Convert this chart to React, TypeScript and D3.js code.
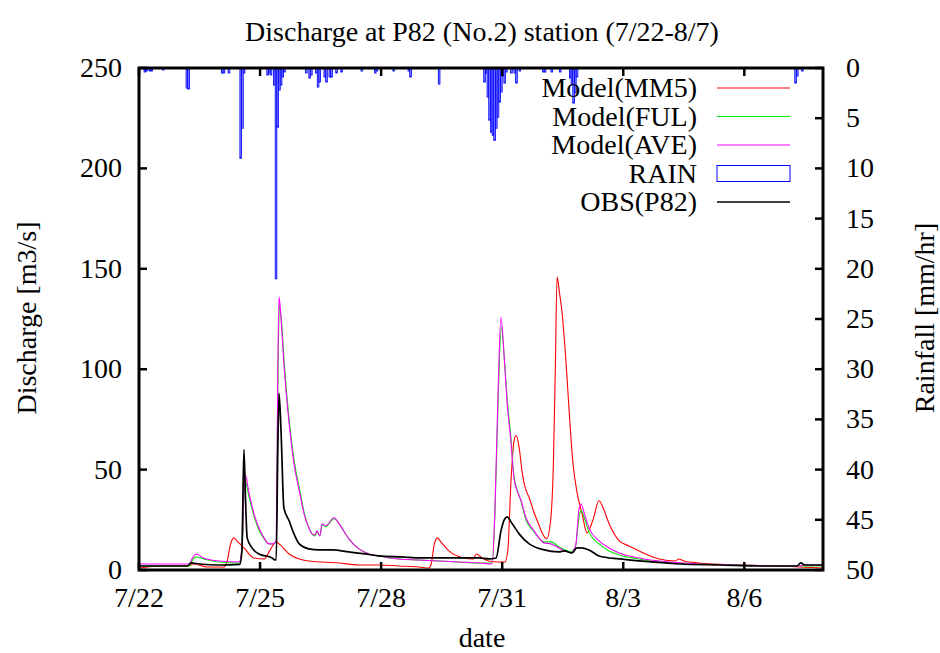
import React, { useEffect, useRef } from 'react';
import * as d3 from 'd3';

// time in days since 7/22 00:00, discharge in m3/s
const MM5: [number, number][] = [
  [0, 1], [0.2, 1.5], [0.5, 2], [1.2, 2], [1.35, 3], [1.7, 1.5], [2.1, 1.5], [2.18, 4], [2.27, 13],
  [2.35, 16], [2.45, 14], [2.6, 11], [2.85, 6], [3.1, 5.5], [3.25, 10], [3.4, 14], [3.5, 12.5],
  [3.72, 8], [4.2, 4.5], [4.96, 3.5], [5.45, 2.5], [5.95, 2.5], [6.44, 2], [6.94, 1.5], [7.18, 1],
  [7.24, 3], [7.32, 13], [7.39, 16], [7.5, 13.5], [7.68, 9.5], [8.05, 6], [8.28, 5.5], [8.36, 8],
  [8.5, 6], [8.67, 4.5], [8.9, 4], [9.07, 4], [9.14, 10], [9.22, 45], [9.3, 65], [9.35, 67],
  [9.42, 61], [9.5, 48], [9.57, 41], [9.67, 36], [9.8, 28], [9.9, 23], [10.0, 18], [10.1, 15.5],
  [10.2, 24.5], [10.27, 54], [10.32, 104], [10.36, 146], [10.42, 138], [10.48, 129], [10.58, 104],
  [10.66, 79], [10.75, 54], [10.86, 38], [10.98, 28], [11.1, 18.5], [11.25, 25], [11.4, 34.5],
  [11.5, 31], [11.65, 23], [11.9, 14.5], [12.14, 12], [12.39, 9.5], [12.89, 5.5], [13.3, 4.5],
  [13.38, 5.5], [13.5, 4.5], [13.88, 3.5], [14.87, 2.5], [15.86, 2], [16.36, 1.5], [16.95, 1]
];

const FUL: [number, number][] = [
  [0, 2], [1.25, 2], [1.3, 4], [1.41, 6.5], [1.6, 5.5], [1.98, 4], [2.48, 3.5], [2.55, 9], [2.62, 45],
  [2.73, 36], [2.85, 27], [2.97, 20], [3.1, 15.5], [3.22, 13], [3.3, 13], [3.4, 14], [3.44, 90],
  [3.48, 132], [3.53, 124], [3.6, 103], [3.72, 75], [3.84, 55], [3.97, 41], [4.09, 29], [4.21, 21],
  [4.29, 18], [4.36, 17], [4.41, 19], [4.48, 17], [4.54, 22.5], [4.63, 21.5], [4.83, 25.5],
  [4.96, 23], [5.2, 15.5], [5.45, 10.5], [5.7, 8], [5.95, 7], [6.44, 5.5], [6.94, 5], [7.43, 4.5],
  [7.93, 4], [8.43, 3.5], [8.75, 3.5], [8.82, 28], [8.9, 85], [8.98, 121], [9.05, 106], [9.12, 86],
  [9.22, 65], [9.29, 47], [9.37, 40], [9.47, 34], [9.59, 25], [9.79, 19], [10.04, 14], [10.21, 14],
  [10.41, 11.5], [10.56, 10], [10.7, 9], [10.82, 12], [10.9, 26], [10.96, 29.5], [11.05, 25],
  [11.15, 19], [11.4, 13], [11.65, 9.5], [11.9, 7.5], [12.39, 5.5], [12.89, 4], [13.88, 3],
  [14.87, 2.5], [15.86, 2], [16.95, 2]
];

const AVE: [number, number][] = [
  [0, 3], [1.25, 3], [1.3, 5], [1.41, 8], [1.6, 6], [1.98, 4.5], [2.48, 4], [2.55, 10], [2.62, 48],
  [2.73, 38], [2.85, 28], [2.97, 21], [3.1, 16], [3.22, 13], [3.3, 13], [3.4, 14.5], [3.44, 100],
  [3.47, 136], [3.52, 125], [3.59, 103], [3.72, 73], [3.84, 53], [3.97, 39.5], [4.09, 28],
  [4.21, 21], [4.29, 18], [4.36, 17.5], [4.41, 19.5], [4.48, 17], [4.54, 23], [4.63, 22],
  [4.83, 26], [4.96, 23], [5.2, 15.5], [5.45, 10.5], [5.7, 8], [5.95, 7], [6.44, 5.5], [6.94, 5],
  [7.43, 4.5], [7.93, 4], [8.43, 3.5], [8.75, 3], [8.82, 30], [8.9, 90], [8.97, 126], [9.05, 106],
  [9.12, 84], [9.22, 63], [9.29, 46], [9.37, 39.5], [9.47, 34.5], [9.59, 26], [9.79, 19.5],
  [10.04, 13.5], [10.21, 13], [10.41, 11], [10.56, 9.5], [10.7, 8.5], [10.82, 12], [10.9, 30],
  [10.95, 33], [11.05, 27], [11.15, 21], [11.4, 14.5], [11.65, 11], [11.9, 8.5], [12.39, 6],
  [12.89, 4.5], [13.88, 3], [14.87, 2.5], [15.86, 2], [16.4, 2], [16.45, 2.5], [16.95, 2.5]
];

const OBS: [number, number][] = [
  [0, 2], [1.2, 2], [1.29, 3.5], [1.5, 3], [2.0, 2.5], [2.5, 2.8], [2.55, 10], [2.6, 60],
  [2.64, 35], [2.68, 16], [2.8, 11], [2.97, 8], [3.3, 6], [3.37, 5], [3.4, 5], [3.44, 60],
  [3.47, 88], [3.52, 69], [3.59, 31], [3.72, 24.5], [3.84, 18], [3.97, 13], [4.21, 10.5],
  [4.46, 10], [4.8, 10], [5.2, 9], [5.6, 8], [5.95, 7], [6.5, 6.5], [7.0, 6], [7.5, 6], [8.0, 6],
  [8.43, 6], [8.67, 5.5], [8.85, 6], [8.97, 19.5], [9.05, 25], [9.12, 26.5], [9.25, 23],
  [9.42, 18], [9.67, 13], [10.04, 10], [10.4, 9], [10.55, 9.5], [10.73, 8.5], [10.85, 11],
  [10.95, 11], [11.15, 10], [11.4, 7], [11.9, 5.5], [12.4, 4.5], [13.4, 3], [14.4, 2.5],
  [15.4, 2], [16.3, 2], [16.4, 3.5], [16.5, 2.5], [16.95, 2.5]
];

// hour since 7/22 00:00, rainfall in mm/hr
const RAIN: [number, number][] = [
  [3, 0.4], [4, 0.3], [6, 0.3], [7, 0.3], [14, 0.2], [28, 2.0], [29, 2.1], [49, 0.5], [50, 0.5],
  [53, 0.5], [60, 9], [61, 6], [62, 0.5], [76, 0.7], [77, 0.5], [78, 0.7], [80, 1.7], [81, 21],
  [82, 5.9], [83, 2.2], [84, 1.7], [85, 0.9], [86, 0.4], [99, 0.5], [101, 1.0], [102, 0.7],
  [105, 0.5], [106, 1.9], [107, 1.4], [110, 0.9], [111, 1.4], [113, 0.9], [114, 0.9], [117, 0.5],
  [120, 0.4], [132, 0.3], [140, 0.5], [141, 0.3], [151, 0.3], [160, 0.3], [161, 0.9], [178, 1.6],
  [205, 1.4], [206, 0.5], [207, 2.9], [208, 5.2], [209, 6.4], [210, 6.7], [211, 7.2], [212, 6.0],
  [213, 4.9], [214, 3.4], [215, 2.4], [216, 0.8], [217, 1.5], [218, 0.4], [221, 0.5], [223, 0.5],
  [224, 1.5], [226, 0.3], [240, 0.4], [241, 0.4], [245, 0.4], [250, 0.4], [256, 1.0], [257, 1.7],
  [258, 3.5], [259, 2.5], [260, 0.9], [390, 1.5], [391, 0.8], [394, 0.3]
];

const xTickDays = [0, 3, 6, 9, 12, 15];
const xTickLabels = ['7/22', '7/25', '7/28', '7/31', '8/3', '8/6'];
const yTicks = [0, 50, 100, 150, 200, 250];
const y2Ticks = [0, 5, 10, 15, 20, 25, 30, 35, 40, 45, 50];

const FONT = '"Liberation Serif", "Times New Roman", serif';

export default function App() {
  const svgRef = useRef<SVGSVGElement>(null);

  useEffect(() => {
    document.body.style.margin = '0';
    if (!svgRef.current) return;
    const svg = d3.select(svgRef.current);
    svg.selectAll('*').remove();

    const left = 139, right = 823, top = 68, bottom = 570;

    const x = d3.scaleLinear().domain([0, 16.95]).range([left, right]);
    const y = d3.scaleLinear().domain([0, 250]).range([bottom, top]);
    const y2 = d3.scaleLinear().domain([0, 50]).range([top, bottom]);

    svg.append('rect').attr('width', 940).attr('height', 653).attr('fill', '#fff');

    const line = d3.line<[number, number]>()
      .x(d => x(d[0]))
      .y(d => y(d[1]))
      .curve(d3.curveMonotoneX);

    const series = [
      { name: 'Model(MM5)', data: MM5, color: '#ff0000', w: 1.1 },
      { name: 'Model(FUL)', data: FUL, color: '#00ee00', w: 1.1 },
      { name: 'Model(AVE)', data: AVE, color: '#ff00ff', w: 1.1 },
    ];

    series.forEach(s => {
      svg.append('path')
        .attr('d', line(s.data))
        .attr('fill', 'none')
        .attr('stroke', s.color)
        .attr('stroke-width', s.w);
    });

    // Rain bars hanging from the top
    const hr = 1 / 24;
    svg.append('g').selectAll('rect')
      .data(RAIN)
      .join('rect')
      .attr('x', d => x(d[0] * hr))
      .attr('y', top)
      .attr('width', x(hr) - x(0))
      .attr('height', d => y2(d[1]) - top)
      .attr('fill', '#8080ff')
      .attr('stroke', '#0000ff')
      .attr('stroke-width', 0.8);

    svg.append('path')
      .attr('d', line(OBS))
      .attr('fill', 'none')
      .attr('stroke', '#000')
      .attr('stroke-width', 1.7);

    // Frame
    svg.append('rect')
      .attr('x', left).attr('y', top)
      .attr('width', right - left).attr('height', bottom - top)
      .attr('fill', 'none').attr('stroke', '#000').attr('stroke-width', 3);

    const tl = 8;
    // left ticks
    svg.append('g').selectAll('line').data(yTicks).join('line')
      .attr('x1', left).attr('x2', left + tl)
      .attr('y1', d => y(d)).attr('y2', d => y(d))
      .attr('stroke', '#000').attr('stroke-width', 2.5);
    svg.append('g').selectAll('text').data(yTicks).join('text')
      .attr('x', 122).attr('y', d => y(d) + 9)
      .attr('text-anchor', 'end')
      .attr('font-family', FONT).attr('font-size', 28)
      .text(d => d);

    // right ticks
    svg.append('g').selectAll('line').data(y2Ticks).join('line')
      .attr('x1', right).attr('x2', right - tl)
      .attr('y1', d => y2(d)).attr('y2', d => y2(d))
      .attr('stroke', '#000').attr('stroke-width', 2.5);
    svg.append('g').selectAll('text').data(y2Ticks).join('text')
      .attr('x', 846).attr('y', d => y2(d) + 9)
      .attr('text-anchor', 'start')
      .attr('font-family', FONT).attr('font-size', 28)
      .text(d => d);

    // x ticks, bottom and mirrored on top
    svg.append('g').selectAll('line').data(xTickDays).join('line')
      .attr('x1', d => x(d)).attr('x2', d => x(d))
      .attr('y1', bottom).attr('y2', bottom - tl)
      .attr('stroke', '#000').attr('stroke-width', 2.5);
    svg.append('g').selectAll('line').data(xTickDays).join('line')
      .attr('x1', d => x(d)).attr('x2', d => x(d))
      .attr('y1', top).attr('y2', top + tl)
      .attr('stroke', '#000').attr('stroke-width', 2.5);
    svg.append('g').selectAll('text').data(xTickDays).join('text')
      .attr('x', d => x(d)).attr('y', 607)
      .attr('text-anchor', 'middle')
      .attr('font-family', FONT).attr('font-size', 28)
      .text((d, i) => xTickLabels[i]);

    // Titles
    svg.append('text')
      .attr('x', 482).attr('y', 41)
      .attr('text-anchor', 'middle')
      .attr('font-family', FONT).attr('font-size', 28)
      .text('Discharge at P82 (No.2) station (7/22-8/7)');
    svg.append('text')
      .attr('x', 482).attr('y', 647)
      .attr('text-anchor', 'middle')
      .attr('font-family', FONT).attr('font-size', 28)
      .text('date');
    svg.append('text')
      .attr('transform', 'translate(36,318) rotate(-90)')
      .attr('text-anchor', 'middle')
      .attr('font-family', FONT).attr('font-size', 28)
      .text('Discharge [m3/s]');
    svg.append('text')
      .attr('transform', 'translate(934,318) rotate(-90)')
      .attr('text-anchor', 'middle')
      .attr('font-family', FONT).attr('font-size', 28)
      .text('Rainfall [mm/hr]');

    // Legend
    const legend = [
      { name: 'Model(MM5)', color: '#ff0000', type: 'line', w: 1.1 },
      { name: 'Model(FUL)', color: '#00ee00', type: 'line', w: 1.1 },
      { name: 'Model(AVE)', color: '#ff00ff', type: 'line', w: 1.1 },
      { name: 'RAIN', color: '#0000ff', type: 'box', w: 1 },
      { name: 'OBS(P82)', color: '#000', type: 'line', w: 1.7 },
    ];
    const lg = svg.append('g');
    legend.forEach((l, i) => {
      const cy = 88 + i * 28.5;
      lg.append('text')
        .attr('x', 697).attr('y', cy + 9)
        .attr('text-anchor', 'end')
        .attr('font-family', FONT).attr('font-size', 28)
        .text(l.name);
      if (l.type === 'line') {
        lg.append('line')
          .attr('x1', 717).attr('x2', 790)
          .attr('y1', cy).attr('y2', cy)
          .attr('stroke', l.color).attr('stroke-width', l.w);
      } else {
        lg.append('rect')
          .attr('x', 717).attr('y', cy - 8)
          .attr('width', 73).attr('height', 16)
          .attr('fill', 'none')
          .attr('stroke', l.color).attr('stroke-width', 1);
      }
    });
  }, []);

  return <svg ref={svgRef} width={940} height={653} style={{ display: 'block' }} />;
}
